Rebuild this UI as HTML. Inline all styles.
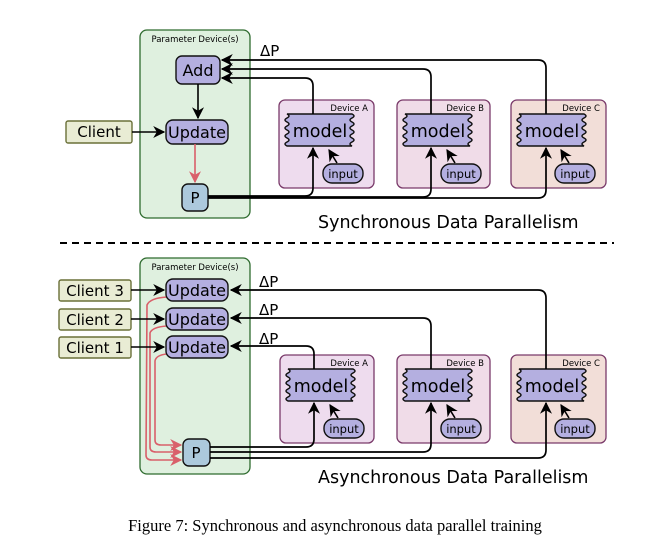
<!DOCTYPE html>
<html><head><meta charset="utf-8"><style>
html,body{margin:0;padding:0;background:#fff;}
svg{display:block;font-family:"DejaVu Sans","Liberation Sans",sans-serif;}
</style></head><body>
<svg width="670" height="543" viewBox="0 0 670 543" xmlns="http://www.w3.org/2000/svg">
<defs>
<marker id="ah" viewBox="0 0 10 10" refX="9" refY="5" markerWidth="12" markerHeight="12" markerUnits="userSpaceOnUse" orient="auto">
<path d="M0,0 L10,5 L0,10 L3,5 Z" fill="#000"/></marker>
<marker id="ar" viewBox="0 0 10 10" refX="9" refY="5" markerWidth="12" markerHeight="12" markerUnits="userSpaceOnUse" orient="auto">
<path d="M0,0 L10,5 L0,10 L3,5 Z" fill="#d9606a"/></marker>
<g id="model">
<path d="M8,14 H73 q4,2 0,4 q-4,2 0,4 q4,2 0,4 q-4,2 0,4 q4,2 0,4 q-4,2 0,4 q4,2 0,4 q-4,2 0,4 H8 q-4,-2 0,-4 q4,-2 0,-4 q-4,-2 0,-4 q4,-2 0,-4 q-4,-2 0,-4 q4,-2 0,-4 q-4,-2 0,-4 q4,-2 0,-4 Z" fill="#b4afe0" stroke="#111" stroke-width="1.4"/>
<text x="41" y="37" font-size="17.5" text-anchor="middle">model</text>
<rect x="44" y="64" width="40" height="19" rx="9" fill="#b4afe0" stroke="#111" stroke-width="1.4"/>
<text x="64" y="78" font-size="11.5" text-anchor="middle">input</text>
<path d="M58,63 L50,50" stroke="#000" stroke-width="1.6" marker-end="url(#ah)"/>
</g>
</defs>

<!-- TOP -->
<rect x="140" y="30" width="110" height="188" rx="7" fill="#dff0df" stroke="#2e6b2e" stroke-width="1.3"/>
<text x="195" y="42" font-size="8.5" text-anchor="middle">Parameter Device(s)</text>
<rect x="176" y="56" width="44" height="28" rx="6" fill="#b4afe0" stroke="#111" stroke-width="1.4"/>
<text x="198" y="76" font-size="16" text-anchor="middle">Add</text>
<rect x="166" y="120" width="62" height="24" rx="7" fill="#b4afe0" stroke="#111" stroke-width="1.4"/>
<text x="197" y="138" font-size="16" text-anchor="middle">Update</text>
<rect x="182" y="184" width="26" height="27" rx="6" fill="#acc9dc" stroke="#111" stroke-width="1.4"/>
<text x="195" y="203" font-size="15" text-anchor="middle">P</text>
<rect x="66" y="121" width="66" height="22" rx="2" fill="#e9ecd4" stroke="#6a7038" stroke-width="1.4"/>
<text x="99" y="137" font-size="15" text-anchor="middle">Client</text>
<path d="M132,132 L164,132" stroke="#000" stroke-width="1.6" marker-end="url(#ah)"/>
<path d="M198,84 L198,118" stroke="#000" stroke-width="1.6" marker-end="url(#ah)"/>
<path d="M195,144 L195,182" stroke="#d9606a" stroke-width="1.6" marker-end="url(#ar)"/>
<text x="260" y="56" font-size="15">ΔP</text>

<g transform="translate(279,100)"><rect x="0" y="0" width="95" height="88" rx="6" fill="#eedcee" stroke="#7a3a6a" stroke-width="1.3"/><text x="89" y="11" font-size="8.5" text-anchor="end">Device A</text><use href="#model"/></g>
<g transform="translate(397,100)"><rect x="0" y="0" width="93" height="88" rx="6" fill="#f0dce8" stroke="#7a3a6a" stroke-width="1.3"/><text x="87" y="11" font-size="8.5" text-anchor="end">Device B</text><use href="#model"/></g>
<g transform="translate(511,100)"><rect x="0" y="0" width="95" height="88" rx="6" fill="#f2ded8" stroke="#7a3a6a" stroke-width="1.3"/><text x="89" y="11" font-size="8.5" text-anchor="end">Device C</text><use href="#model"/></g>

<g fill="none" stroke="#000" stroke-width="1.7">
<path d="M546,114 L546,68 Q546,60 538,60 L222,60" marker-end="url(#ah)"/>
<path d="M431,114 L431,77 Q431,69 423,69 L222,69" marker-end="url(#ah)"/>
<path d="M313,114 L313,86 Q313,78 305,78 L222,78" marker-end="url(#ah)"/>
<path d="M208,196 L305,196 Q313,196 313,188 L313,148" marker-end="url(#ah)"/>
<path d="M208,197 L423,197 Q431,197 431,189 L431,148" marker-end="url(#ah)"/>
<path d="M208,198 L538,198 Q546,198 546,190 L546,148" marker-end="url(#ah)"/>
</g>
<text x="318" y="228" font-size="17.5">Synchronous Data Parallelism</text>

<line x1="60" y1="243" x2="614" y2="243" stroke="#000" stroke-width="2" stroke-dasharray="7,5"/>

<!-- BOTTOM -->
<rect x="140" y="258" width="110" height="216" rx="7" fill="#dff0df" stroke="#2e6b2e" stroke-width="1.3"/>
<text x="195" y="270" font-size="8.5" text-anchor="middle">Parameter Device(s)</text>

<g fill="none" stroke="#d9606a" stroke-width="1.6">
<path d="M167,297 Q150,298 147,305 L146,455 Q146,460 152,460 L181,460" marker-end="url(#ar)"/>
<path d="M167,326 Q152,327 150,333 L150,447 Q150,452 156,452 L181,452" marker-end="url(#ar)"/>
<path d="M167,354 Q156,355 155,361 L155,440 Q155,445 161,445 L181,445" marker-end="url(#ar)"/>
</g>

<rect x="166" y="279" width="62" height="22" rx="7" fill="#b4afe0" stroke="#111" stroke-width="1.4"/>
<text x="197" y="296" font-size="16" text-anchor="middle">Update</text>
<rect x="166" y="308" width="62" height="22" rx="7" fill="#b4afe0" stroke="#111" stroke-width="1.4"/>
<text x="197" y="325" font-size="16" text-anchor="middle">Update</text>
<rect x="166" y="336" width="62" height="22" rx="7" fill="#b4afe0" stroke="#111" stroke-width="1.4"/>
<text x="197" y="353" font-size="16" text-anchor="middle">Update</text>
<rect x="183" y="439" width="27" height="27" rx="6" fill="#acc9dc" stroke="#111" stroke-width="1.4"/>
<text x="196" y="458" font-size="15" text-anchor="middle">P</text>

<rect x="59" y="280" width="72" height="21" rx="2" fill="#e9ecd4" stroke="#6a7038" stroke-width="1.4"/>
<text x="95" y="296" font-size="15" text-anchor="middle">Client 3</text>
<rect x="59" y="309" width="72" height="21" rx="2" fill="#e9ecd4" stroke="#6a7038" stroke-width="1.4"/>
<text x="95" y="325" font-size="15" text-anchor="middle">Client 2</text>
<rect x="59" y="337" width="72" height="21" rx="2" fill="#e9ecd4" stroke="#6a7038" stroke-width="1.4"/>
<text x="95" y="353" font-size="15" text-anchor="middle">Client 1</text>
<g stroke="#000" stroke-width="1.6">
<path d="M131,290 L164,290" marker-end="url(#ah)"/>
<path d="M131,319 L164,319" marker-end="url(#ah)"/>
<path d="M131,347 L164,347" marker-end="url(#ah)"/>
</g>
<text x="259" y="287" font-size="15">ΔP</text>
<text x="259" y="315" font-size="15">ΔP</text>
<text x="259" y="344" font-size="15">ΔP</text>

<g transform="translate(280,355)"><rect x="0" y="0" width="94" height="88" rx="6" fill="#eedcee" stroke="#7a3a6a" stroke-width="1.3"/><text x="88" y="11" font-size="8.5" text-anchor="end">Device A</text><use href="#model"/></g>
<g transform="translate(397,355)"><rect x="0" y="0" width="93" height="88" rx="6" fill="#f0dce8" stroke="#7a3a6a" stroke-width="1.3"/><text x="87" y="11" font-size="8.5" text-anchor="end">Device B</text><use href="#model"/></g>
<g transform="translate(511,355)"><rect x="0" y="0" width="95" height="88" rx="6" fill="#f2ded8" stroke="#7a3a6a" stroke-width="1.3"/><text x="89" y="11" font-size="8.5" text-anchor="end">Device C</text><use href="#model"/></g>

<g fill="none" stroke="#000" stroke-width="1.7">
<path d="M546,369 L546,298 Q546,290 538,290 L231,290" marker-end="url(#ah)"/>
<path d="M431,369 L431,326 Q431,318 423,318 L231,318" marker-end="url(#ah)"/>
<path d="M314,369 L314,354 Q314,346 306,346 L231,346" marker-end="url(#ah)"/>
<path d="M210,447 L306,447 Q314,447 314,439 L314,403" marker-end="url(#ah)"/>
<path d="M210,452 L423,452 Q431,452 431,444 L431,403" marker-end="url(#ah)"/>
<path d="M210,458 L538,458 Q546,458 546,450 L546,403" marker-end="url(#ah)"/>
</g>
<text x="318" y="483" font-size="17.5">Asynchronous Data Parallelism</text>

<text x="335" y="531" font-size="16.5" text-anchor="middle" font-family="'Liberation Serif',serif">Figure 7: Synchronous and asynchronous data parallel training</text>
</svg>
</body></html>
